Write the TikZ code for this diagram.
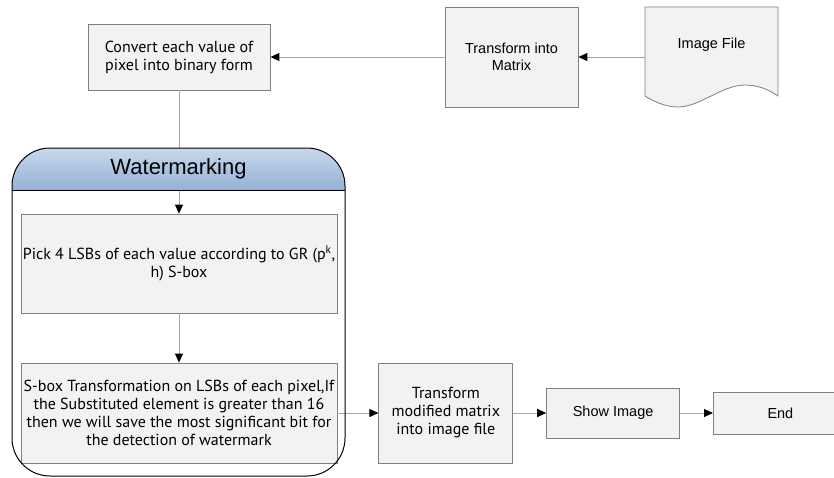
\documentclass[tikz,border=0pt]{standalone}
\usepackage{fontspec}
\newfontfamily\arialfont{Liberation Sans}
\newfontfamily\myriadfont{PT Sans}
\usetikzlibrary{positioning,arrows.meta}
\definecolor{boxfill}{HTML}{F2F2F2}
\definecolor{boxline}{HTML}{808080}
\definecolor{flowline}{HTML}{A6A6A6}
\definecolor{headtop}{HTML}{C8D8EC}
\definecolor{headbot}{HTML}{93B1D5}

\begin{document}
\begin{tikzpicture}[x=1pt, y=-1pt, node distance=33pt,
  procbox/.style={draw=boxline, fill=boxfill, line width=0.8pt, inner sep=0pt, align=center},
  mtext/.style={font=\myriadfont\fontsize{16}{18}\selectfont},
  atext/.style={font=\arialfont\fontsize{14.5}{16.7}\selectfont},
  flow/.style={draw=flowline, line width=1pt, -{Triangle[length=9pt,width=8pt,color=black]}}]
\useasboundingbox (0,0) rectangle (834,477);

% top row
\node[procbox, mtext, minimum width=182pt, minimum height=66pt] (convert) at (179,57) {Convert each value of\\pixel into binary form};
\node[procbox, atext, minimum width=133pt, minimum height=100pt] (tomatrix) at (511.5,57) {Transform into\\Matrix};
\node[minimum width=133pt, minimum height=100pt, inner sep=0pt] (imgfile) at (711.5,57) {};
% document symbol with wavy bottom
\filldraw[draw=boxline, fill=boxfill, line width=0.8pt] (645,7) -- (778,7) -- (778,96)
  .. controls (768,89) and (757,85) .. (745,85)
  .. controls (722,85) and (700,107) .. (678,107)
  .. controls (665,107) and (653,101) .. (645,96) -- cycle;
\node[atext] (imglabel) at (711.5,45) {Image File};

% inside the watermarking block
\node[procbox, mtext, minimum width=316pt, minimum height=99pt] (pick) at (179,263.5) {Pick 4 LSBs of each value according to GR (p\textsuperscript{k},\\h) S-box};
\node[procbox, mtext, minimum width=316pt, minimum height=100pt] (sbox) at (179,413) {S-box Transformation on LSBs of each pixel,If\\the Substituted element is greater than 16\\then we will save the most significant bit for\\the detection of watermark};

% bottom row
\node[procbox, mtext, minimum width=134pt, minimum height=100pt, right=41pt of sbox] (modified) {Transform\\modified matrix\\into image file};
\node[procbox, atext, minimum width=133pt, minimum height=50pt, right=of modified] (show) {Show Image};
\node[procbox, atext, minimum width=134pt, minimum height=42pt, right=of show] (end) {End};

\draw[flow] (imgfile.west) -- (tomatrix);
\draw[flow] (tomatrix) -- (convert);
\draw[flow] (convert) -- (pick);
\draw[flow] (pick) -- (sbox);
\draw[flow, line width=0.7pt] (sbox) -- (modified);
\draw[flow] (modified) -- (show);
\draw[flow] (show) -- (end);

% watermarking frame with shaded header
\begin{scope}
  \clip[rounded corners=38pt] (12,148) rectangle (345,476);
  \shade[top color=headtop, bottom color=headbot] (12,148) rectangle (345,190);
\end{scope}
\draw[line width=1pt, rounded corners=38pt] (12,148) rectangle (345,476);
\draw[line width=1pt] (12,190) -- (345,190);
\node[font=\arialfont\fontsize{22}{26}\selectfont] (wmtitle) at (178.5,169) {Watermarking};
\end{tikzpicture}
\end{document}
